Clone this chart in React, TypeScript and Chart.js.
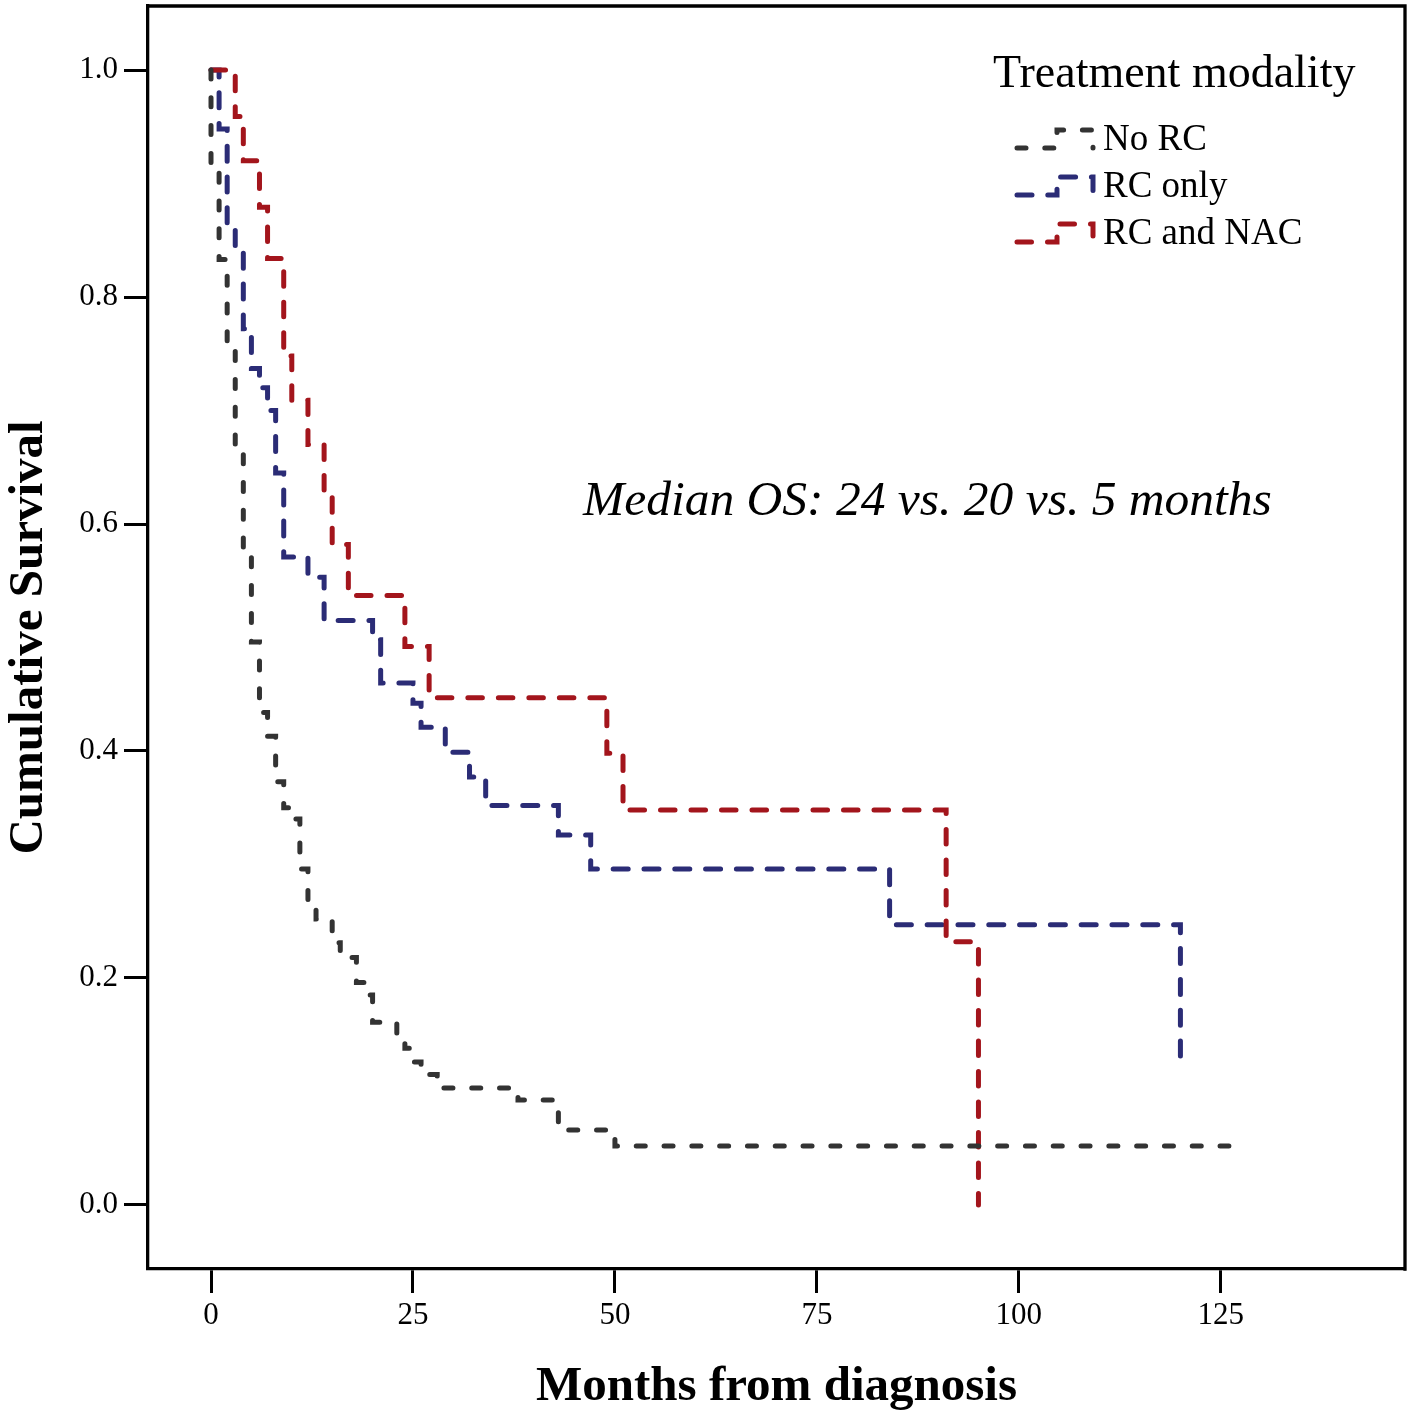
import React, { useEffect, useRef } from "react";
import { Chart, registerables } from "chart.js";

Chart.register(...registerables);

const FONT = '"Liberation Serif", "Times New Roman", Times, serif';

const seriesNames = ["No RC", "RC only", "RC and NAC"];
const seriesColors = ["#333333", "#2b2c76", "#a3151c"];

// Kaplan-Meier steps: month of event, survival after the event
const noRcMonths = [0, 0, 1, 2, 3, 4, 5, 6, 7, 8, 9, 10, 11, 12, 13, 15, 16, 18, 19, 20, 23, 24, 25, 26, 28, 38, 43, 50, 126];
const noRcSurvival = [1.0, 0.914, 0.833, 0.756, 0.665, 0.575, 0.496, 0.434, 0.413, 0.373, 0.35, 0.34, 0.296, 0.264, 0.252, 0.231, 0.218, 0.196, 0.185, 0.161, 0.149, 0.138, 0.126, 0.115, 0.103, 0.0925, 0.066, 0.052, 0.052];

const rcOnlyMonths = [0, 1, 2, 3, 4, 5, 6, 7, 8, 9, 12, 14, 20, 21, 25, 26, 29, 32, 34, 43, 47, 84, 120];
const rcOnlySurvival = [1.0, 0.948, 0.861, 0.842, 0.772, 0.737, 0.72, 0.7, 0.645, 0.571, 0.553, 0.515, 0.498, 0.46, 0.442, 0.421, 0.399, 0.377, 0.352, 0.326, 0.296, 0.247, 0.125];

const rcNacMonths = [0, 3, 4, 6, 7, 9, 10, 12, 14, 15, 17, 24, 27, 49, 51, 91, 95];
const rcNacSurvival = [1.0, 0.959, 0.92, 0.879, 0.834, 0.748, 0.709, 0.67, 0.627, 0.582, 0.537, 0.492, 0.447, 0.398, 0.348, 0.232, 0.0];

const xTickValues = [0, 25, 50, 75, 100, 125];
const yTickValues = [0, 0.2, 0.4, 0.6, 0.8, 1.0];

const xTitle = "Months from diagnosis";
const yTitle = "Cumulative Survival";
const legendTitle = "Treatment modality";
const annotationText = "Median OS: 24 vs. 20 vs. 5 months";

const dashes = [
  [9, 18.8],
  [15, 15.8],
  [14.5, 16],
];

export default function App() {
  const ref = useRef<HTMLCanvasElement>(null);

  useEffect(() => {
    const canvas = ref.current!;
    const toPoints = (xs: number[], ys: number[]) => xs.map((x, i) => ({ x, y: ys[i] }));
    const seriesData = [
      toPoints(noRcMonths, noRcSurvival),
      toPoints(rcOnlyMonths, rcOnlySurvival),
      toPoints(rcNacMonths, rcNacSurvival),
    ];
    const drawOrder = [0, 2, 1];

    const overlay = {
      id: "overlay",
      afterDatasetsDraw(chart: any) {
        const ctx = chart.ctx as CanvasRenderingContext2D;
        const ca = chart.chartArea;
        ctx.save();
        // top and right frame
        ctx.strokeStyle = "#000";
        ctx.lineWidth = 3.3;
        ctx.lineCap = "square";
        ctx.setLineDash([]);
        ctx.beginPath();
        ctx.moveTo(ca.left, ca.top);
        ctx.lineTo(ca.right, ca.top);
        ctx.lineTo(ca.right, ca.bottom);
        ctx.stroke();

        // annotation
        ctx.fillStyle = "#000";
        ctx.textAlign = "left";
        ctx.textBaseline = "alphabetic";
        ctx.font = `italic 49.5px ${FONT}`;
        ctx.fillText(annotationText, 583, 515);

        // legend
        ctx.font = `46px ${FONT}`;
        ctx.fillText(legendTitle, 993, 87);
        ctx.font = `37px ${FONT}`;
        const baseY = [148, 195, 242];
        seriesNames.forEach((name, i) => {
          const y = baseY[i];
          ctx.save();
          ctx.strokeStyle = seriesColors[i];
          ctx.lineWidth = 5;
          ctx.lineCap = "round";
          ctx.setLineDash(dashes[i]);
          ctx.beginPath();
          ctx.moveTo(1017, y);
          ctx.lineTo(1057, y);
          ctx.lineTo(1057, y - 18);
          ctx.lineTo(1093, y - 18);
          ctx.lineTo(1093, y);
          ctx.stroke();
          ctx.restore();
          ctx.fillStyle = "#000";
          ctx.fillText(name, 1103, y + 2);
        });
        ctx.restore();
      },
    };

    const chart = new Chart(canvas, {
      type: "line",
      data: {
        datasets: seriesNames.map((name, i) => ({
          label: name,
          data: seriesData[i],
          borderColor: seriesColors[i],
          backgroundColor: seriesColors[i],
          borderWidth: 5,
          borderDash: dashes[i],
          borderCapStyle: "round",
          borderJoinStyle: "miter",
          stepped: "before",
          pointRadius: 0,
          fill: false,
          order: drawOrder[i],
        })),
      },
      options: {
        responsive: false,
        animation: false,
        devicePixelRatio: 1,
        layout: { autoPadding: false, padding: { top: 6, right: 8, left: 0, bottom: 0 } },
        plugins: { legend: { display: false }, tooltip: { enabled: false } },
        scales: {
          x: {
            type: "linear",
            min: -7.8,
            max: 147.8,
            afterBuildTicks: (s: any) => {
              s.ticks = xTickValues.map((v) => ({ value: v }));
            },
            afterFit: (s: any) => {
              s.height = 148;
              s.paddingLeft = 0;
              s.paddingRight = 0;
            },
            grid: { display: true, drawOnChartArea: false, drawTicks: true, tickLength: 24, tickWidth: 3, tickColor: "#000", color: "#000" },
            border: { display: true, color: "#000", width: 3.3 },
            ticks: {
              font: { family: FONT, size: 31 },
              color: "#000",
              padding: 4,
              maxRotation: 0,
              autoSkip: false,
              callback: (v: any) => String(v),
            },
            title: {
              display: true,
              text: xTitle,
              color: "#000",
              font: { family: FONT, size: 49, weight: "bold", lineHeight: 1 },
              padding: { top: 0, bottom: 5 },
            },
          },
          y: {
            type: "linear",
            min: -0.0564,
            max: 1.0564,
            afterBuildTicks: (s: any) => {
              s.ticks = yTickValues.map((v) => ({ value: v }));
            },
            afterFit: (s: any) => {
              s.width = 148;
              s.paddingTop = 0;
              s.paddingBottom = 0;
            },
            grid: { display: true, drawOnChartArea: false, drawTicks: true, tickLength: 24, tickWidth: 3, tickColor: "#000", color: "#000" },
            border: { display: true, color: "#000", width: 3.3 },
            ticks: {
              font: { family: FONT, size: 31 },
              color: "#000",
              padding: 6,
              autoSkip: false,
              callback: (v: any) => Number(v).toFixed(1),
            },
            title: {
              display: true,
              text: yTitle,
              color: "#000",
              font: { family: FONT, size: 49, weight: "bold", lineHeight: 1 },
              padding: { top: 5, bottom: 0 },
            },
          },
        },
      },
      plugins: [overlay],
    } as any);

    return () => chart.destroy();
  }, []);

  return (
    <div style={{ position: "fixed", left: 0, top: 0, width: 1413, height: 1417, background: "#fff" }}>
      <canvas ref={ref} width={1413} height={1417} style={{ display: "block", width: 1413, height: 1417 }} />
    </div>
  );
}
